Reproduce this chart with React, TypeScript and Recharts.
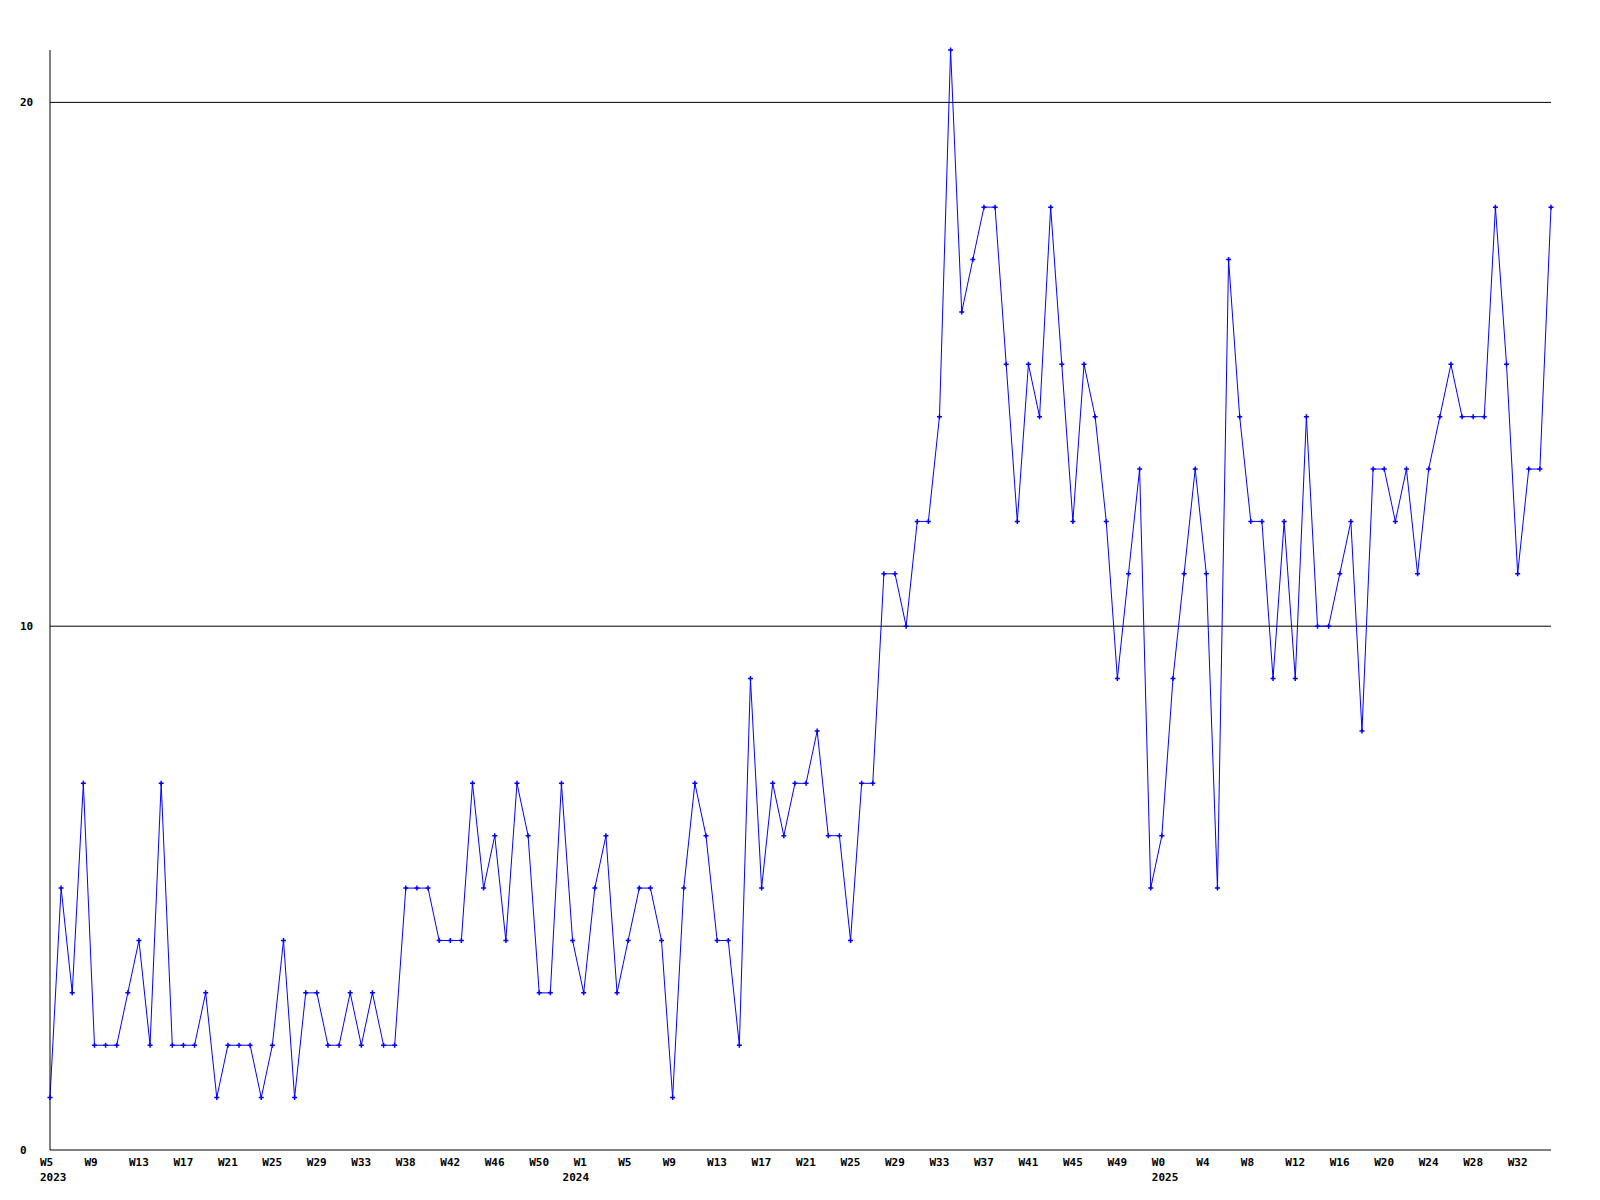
import React from 'react';
import { LineChart, Line, XAxis, YAxis, ReferenceLine } from 'recharts';

// weekly counts, W5 2023 .. W35 2025
const values = [
  1, 5, 3, 7, 2, 2, 2, 3, 4, 2,
  7, 2, 2, 2, 3, 1, 2, 2, 2, 1,
  2, 4, 1, 3, 3, 2, 2, 3, 2, 3,
  2, 2, 5, 5, 5, 4, 4, 4, 7, 5,
  6, 4, 7, 6, 3, 3, 7, 4, 3, 5,
  6, 3, 4, 5, 5, 4, 1, 5, 7, 6,
  4, 4, 2, 9, 5, 7, 6, 7, 7, 8,
  6, 6, 4, 7, 7, 11, 11, 10, 12, 12,
  14, 21, 16, 17, 18, 18, 15, 12, 15, 14,
  18, 15, 12, 15, 14, 12, 9, 11, 13, 5,
  6, 9, 11, 13, 11, 5, 17, 14, 12, 12,
  9, 12, 9, 14, 10, 10, 11, 12, 8, 13,
  13, 12, 13, 11, 13, 14, 15, 14, 14, 14,
  18, 15, 11, 13, 13, 18,
];

// a week label every 4th point
const weekLabels = [
  'W5', 'W9', 'W13', 'W17', 'W21', 'W25', 'W29', 'W33', 'W38', 'W42', 'W46', 'W50',
  'W1', 'W5', 'W9', 'W13', 'W17', 'W21', 'W25', 'W29', 'W33', 'W37', 'W41', 'W45', 'W49',
  'W0', 'W4', 'W8', 'W12', 'W16', 'W20', 'W24', 'W28', 'W32',
];
const weekStep = 4;

// first point of each year
const years = ['2023', '2024', '2025'];
const yearStarts = [0, 47, 100];

const yTicks = [0, 10, 20];
const gridValues = [10, 20];

const data = values.map((v, i) => ({ i, v }));
const weekTicks = weekLabels.map((_, k) => k * weekStep);
const xTicks = Array.from(new Set([...weekTicks, ...yearStarts])).sort((a, b) => a - b);

const FONT = '"DejaVu Sans Mono", monospace';
const BLUE = '#0000ff';

const WeekTick = (props: any) => {
  const { x, y, payload } = props;
  const idx = payload.value;
  const wk = idx % weekStep === 0 ? weekLabels[idx / weekStep] : null;
  const yk = yearStarts.indexOf(idx);
  return (
    <g fontFamily={FONT} fontSize={11} fontWeight="bold" fill="#000">
      {wk && (
        <text x={x - 10} y={y + 8}>
          {wk}
        </text>
      )}
      {yk >= 0 && (
        <text x={x - 10} y={y + 23}>
          {years[yk]}
        </text>
      )}
    </g>
  );
};

const ValueTick = (props: any) => {
  const { y, payload } = props;
  return (
    <text x={20} y={y + 4} fontFamily={FONT} fontSize={11} fontWeight="bold" fill="#000">
      {payload.value}
    </text>
  );
};

const Marker = (p: any) => {
  const { cx, cy, index } = p;
  return (
    <path
      key={index}
      d={`M${cx - 2.5},${cy}H${cx + 2.5}M${cx},${cy - 2.5}V${cy + 2.5}`}
      stroke={BLUE}
      strokeWidth={1.5}
      fill="none"
    />
  );
};

export default function App() {
  return (
    <div style={{ position: 'absolute', left: 0, top: 0, width: 1600, height: 1200, background: '#fff' }}>
      <LineChart width={1600} height={1200} data={data} margin={{ top: 50, right: 49, bottom: 0, left: 0 }}>
        <XAxis
          dataKey="i"
          type="number"
          domain={[0, values.length - 1]}
          ticks={xTicks}
          interval={0}
          height={50}
          axisLine={{ stroke: '#000' }}
          tickLine={false}
          tick={<WeekTick />}
        />
        <YAxis
          domain={[0, 21]}
          ticks={yTicks}
          interval={0}
          width={50}
          axisLine={{ stroke: '#000' }}
          tickLine={false}
          tick={<ValueTick />}
        />
        {gridValues.map((g) => (
          <ReferenceLine key={g} y={g} stroke="#000" strokeWidth={1} />
        ))}
        <Line
          type="linear"
          dataKey="v"
          stroke={BLUE}
          strokeWidth={1}
          dot={Marker}
          activeDot={false}
          isAnimationActive={false}
        />
      </LineChart>
    </div>
  );
}
